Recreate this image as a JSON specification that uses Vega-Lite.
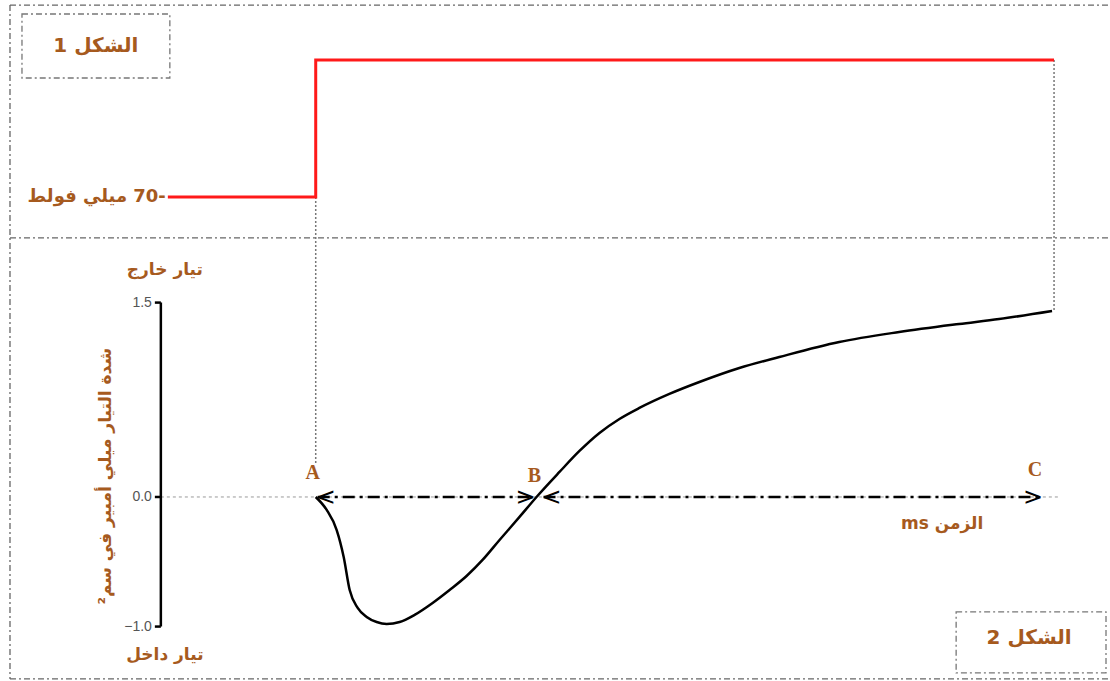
{
  "$schema": "https://vega.github.io/schema/vega-lite/v6.json",
  "width": 1110,
  "height": 681,
  "autosize": {"type": "fit", "contains": "padding"},
  "padding": 0,
  "config": {"view": {"stroke": null}},
  "layer": [
    {"data": {"values": [
       {"x1": -3.06, "x2": 7.94, "y1": 3.796},
       {"x1": -3.06, "x2": 7.94, "y1": 2.0},
       {"x1": -3.06, "x2": 7.94, "y1": -1.404}]},
     "mark": {"type": "rule", "stroke": "#666", "strokeWidth": 1.3, "strokeDash": [6, 3, 2, 3]},
     "encoding": {
       "x": {"field": "x1", "type": "quantitative", "scale": {"domain": [-3.16, 7.94], "nice": false, "zero": false}, "axis": null},
       "x2": {"field": "x2"},
       "y": {"field": "y1", "type": "quantitative", "scale": {"domain": [-1.42, 3.835], "nice": false, "zero": false}, "axis": null}}},
    {"data": {"values": [{"x1": -3.06, "y1": 3.796, "y2": -1.404}]},
     "mark": {"type": "rule", "stroke": "#666", "strokeWidth": 1.3, "strokeDash": [6, 3, 2, 3]},
     "encoding": {"x": {"field": "x1", "type": "quantitative", "axis": null}, "y": {"field": "y1", "type": "quantitative", "axis": null}, "y2": {"field": "y2"}}},
    {"data": {"values": [
       {"x1": -2.94, "x2": -1.46, "y1": 3.727, "y2": 3.233},
       {"x1": 6.41, "x2": 7.91, "y1": -0.887, "y2": -1.358}]},
     "mark": {"type": "rect", "fillOpacity": 0, "stroke": "#777", "strokeWidth": 1.3, "strokeDash": [6, 3, 2, 3]},
     "encoding": {"x": {"field": "x1", "type": "quantitative", "axis": null}, "x2": {"field": "x2"}, "y": {"field": "y1", "type": "quantitative", "axis": null}, "y2": {"field": "y2"}}},
    {"data": {"values": [{"x1": -1.55, "x2": 7.44, "y1": 0}]},
     "mark": {"type": "rule", "stroke": "#999", "strokeWidth": 1, "strokeDash": [3, 3]},
     "encoding": {"x": {"field": "x1", "type": "quantitative", "axis": null}, "x2": {"field": "x2"}, "y": {"field": "y1", "type": "quantitative", "axis": null}}},
    {"data": {"values": [
       {"x1": 0, "y1": 2.315, "y2": 0.262},
       {"x1": 7.39, "y1": 3.372, "y2": 1.435}]},
     "mark": {"type": "rule", "stroke": "#777", "strokeWidth": 1.5, "strokeDash": [2, 2]},
     "encoding": {"x": {"field": "x1", "type": "quantitative", "axis": null}, "y": {"field": "y1", "type": "quantitative", "axis": null}, "y2": {"field": "y2"}}},
    {"data": {"values": [{"x1": -1.55, "y1": 1.5, "y2": -1.0}]},
     "mark": {"type": "rule", "stroke": "#000", "strokeWidth": 2.5},
     "encoding": {"x": {"field": "x1", "type": "quantitative", "axis": null}, "y": {"field": "y1", "type": "quantitative", "axis": null}, "y2": {"field": "y2"}}},
    {"data": {"values": [
       {"x1": -1.61, "x2": -1.55, "y1": 1.5},
       {"x1": -1.61, "x2": -1.55, "y1": 0},
       {"x1": -1.61, "x2": -1.55, "y1": -1.0}]},
     "mark": {"type": "rule", "stroke": "#000", "strokeWidth": 2.5},
     "encoding": {"x": {"field": "x1", "type": "quantitative", "axis": null}, "x2": {"field": "x2"}, "y": {"field": "y1", "type": "quantitative", "axis": null}}},
    {"data": {"values": [
       {"t": -1.64, "i": 1.5, "label": "1.5"},
       {"t": -1.64, "i": 0, "label": "0.0"},
       {"t": -1.64, "i": -1.0, "label": "−1.0"}]},
     "mark": {"type": "text", "font": "Liberation Sans", "fontSize": 14, "color": "#555", "align": "right", "baseline": "middle"},
     "encoding": {"x": {"field": "t", "type": "quantitative", "axis": null}, "y": {"field": "i", "type": "quantitative", "axis": null}, "text": {"field": "label"}}},
    {"data": {"values": [{"t": -2.10, "i": 0.16, "label": "شدة التيار ميلي أمبير في سم²"}]},
     "mark": {"type": "text", "font": "DejaVu Sans", "fontWeight": "bold", "fontSize": 17, "color": "#A65A1E", "align": "center", "baseline": "middle", "angle": 270},
     "encoding": {"x": {"field": "t", "type": "quantitative", "axis": null}, "y": {"field": "i", "type": "quantitative", "axis": null}, "text": {"field": "label"}}},
    {"data": {"values": [
       {"x1": 0.02, "x2": 2.17, "y1": 0},
       {"x1": 2.28, "x2": 7.24, "y1": 0}]},
     "mark": {"type": "rule", "stroke": "#000", "strokeWidth": 2.5, "strokeDash": [12, 5, 3, 5]},
     "encoding": {"x": {"field": "x1", "type": "quantitative", "axis": null}, "x2": {"field": "x2"}, "y": {"field": "y1", "type": "quantitative", "axis": null}}},
    {"data": {"values": [{"t": 0.0, "i": 0, "head": "<"}, {"t": 2.26, "i": 0, "head": "<"}]},
     "mark": {"type": "text", "font": "DejaVu Sans", "fontSize": 24, "color": "#000", "align": "left", "baseline": "middle", "dy": 1},
     "encoding": {"x": {"field": "t", "type": "quantitative", "axis": null}, "y": {"field": "i", "type": "quantitative", "axis": null}, "text": {"field": "head"}}},
    {"data": {"values": [{"t": 2.20, "i": 0, "head": ">"}, {"t": 7.28, "i": 0, "head": ">"}]},
     "mark": {"type": "text", "font": "DejaVu Sans", "fontSize": 24, "color": "#000", "align": "right", "baseline": "middle", "dy": 1},
     "encoding": {"x": {"field": "t", "type": "quantitative", "axis": null}, "y": {"field": "i", "type": "quantitative", "axis": null}, "text": {"field": "head"}}},
    {"data": {"values": [{"t": -1.48, "level": 2.315}, {"t": 0, "level": 3.372}, {"t": 7.39, "level": 3.372}]},
     "mark": {"type": "line", "color": "#FF1A1A", "strokeWidth": 3, "interpolate": "step-after"},
     "encoding": {"x": {"field": "t", "type": "quantitative", "axis": null}, "y": {"field": "level", "type": "quantitative", "axis": null}}},
    {"data": {"values": [
      {"t": 0, "i": 0}, {"t": 0.11, "i": -0.1}, {"t": 0.21, "i": -0.255}, {"t": 0.28, "i": -0.463},
      {"t": 0.34, "i": -0.718}, {"t": 0.42, "i": -0.856}, {"t": 0.51, "i": -0.926}, {"t": 0.61, "i": -0.965},
      {"t": 0.71, "i": -0.98}, {"t": 0.84, "i": -0.965}, {"t": 0.99, "i": -0.91}, {"t": 1.17, "i": -0.818},
      {"t": 1.34, "i": -0.718}, {"t": 1.51, "i": -0.61}, {"t": 1.67, "i": -0.486}, {"t": 1.84, "i": -0.332},
      {"t": 2.04, "i": -0.154}, {"t": 2.21, "i": 0}, {"t": 2.44, "i": 0.193}, {"t": 2.64, "i": 0.355},
      {"t": 2.84, "i": 0.494}, {"t": 3.04, "i": 0.602}, {"t": 3.24, "i": 0.687}, {"t": 3.54, "i": 0.795},
      {"t": 3.84, "i": 0.887}, {"t": 4.24, "i": 0.995}, {"t": 4.64, "i": 1.08}, {"t": 5.24, "i": 1.196},
      {"t": 5.84, "i": 1.273}, {"t": 6.44, "i": 1.335}, {"t": 6.84, "i": 1.373}, {"t": 7.37, "i": 1.435}]},
     "mark": {"type": "line", "color": "#000", "strokeWidth": 2.5, "interpolate": "monotone"},
     "encoding": {"x": {"field": "t", "type": "quantitative", "axis": null}, "y": {"field": "i", "type": "quantitative", "axis": null}}},
    {"data": {"values": [
       {"t": -2.20, "i": 3.48, "label": "الشكل 1"},
       {"t": 7.14, "i": -1.088, "label": "الشكل 2"}]},
     "mark": {"type": "text", "font": "DejaVu Sans", "fontWeight": "bold", "fontSize": 20, "color": "#A65A1E", "align": "center", "baseline": "middle"},
     "encoding": {"x": {"field": "t", "type": "quantitative", "axis": null}, "y": {"field": "i", "type": "quantitative", "axis": null}, "text": {"field": "label"}}},
    {"data": {"values": [
       {"t": -1.51, "i": 1.75, "label": "تيار خارج"},
       {"t": -1.51, "i": -1.22, "label": "تيار داخل"},
       {"t": 6.27, "i": -0.208, "label": "\u202Bالزمن ms\u202C"}]},
     "mark": {"type": "text", "font": "DejaVu Sans", "fontWeight": "bold", "fontSize": 17, "color": "#A65A1E", "align": "center", "baseline": "middle"},
     "encoding": {"x": {"field": "t", "type": "quantitative", "axis": null}, "y": {"field": "i", "type": "quantitative", "axis": null}, "text": {"field": "label"}}},
    {"data": {"values": [{"t": -1.50, "i": 2.315, "label": "\u202B-70 ميلي فولط\u202C"}]},
     "mark": {"type": "text", "font": "DejaVu Sans", "fontWeight": "bold", "fontSize": 18, "color": "#A65A1E", "align": "right", "baseline": "middle"},
     "encoding": {"x": {"field": "t", "type": "quantitative", "axis": null}, "y": {"field": "i", "type": "quantitative", "axis": null}, "text": {"field": "label"}}},
    {"data": {"values": [
       {"t": -0.03, "i": 0.185, "label": "A"},
       {"t": 2.19, "i": 0.162, "label": "B"},
       {"t": 7.20, "i": 0.208, "label": "C"}]},
     "mark": {"type": "text", "font": "Liberation Serif", "fontWeight": "bold", "fontSize": 20, "color": "#A65A1E", "align": "center", "baseline": "middle"},
     "encoding": {"x": {"field": "t", "type": "quantitative", "axis": null}, "y": {"field": "i", "type": "quantitative", "axis": null}, "text": {"field": "label"}}}
  ]
}
